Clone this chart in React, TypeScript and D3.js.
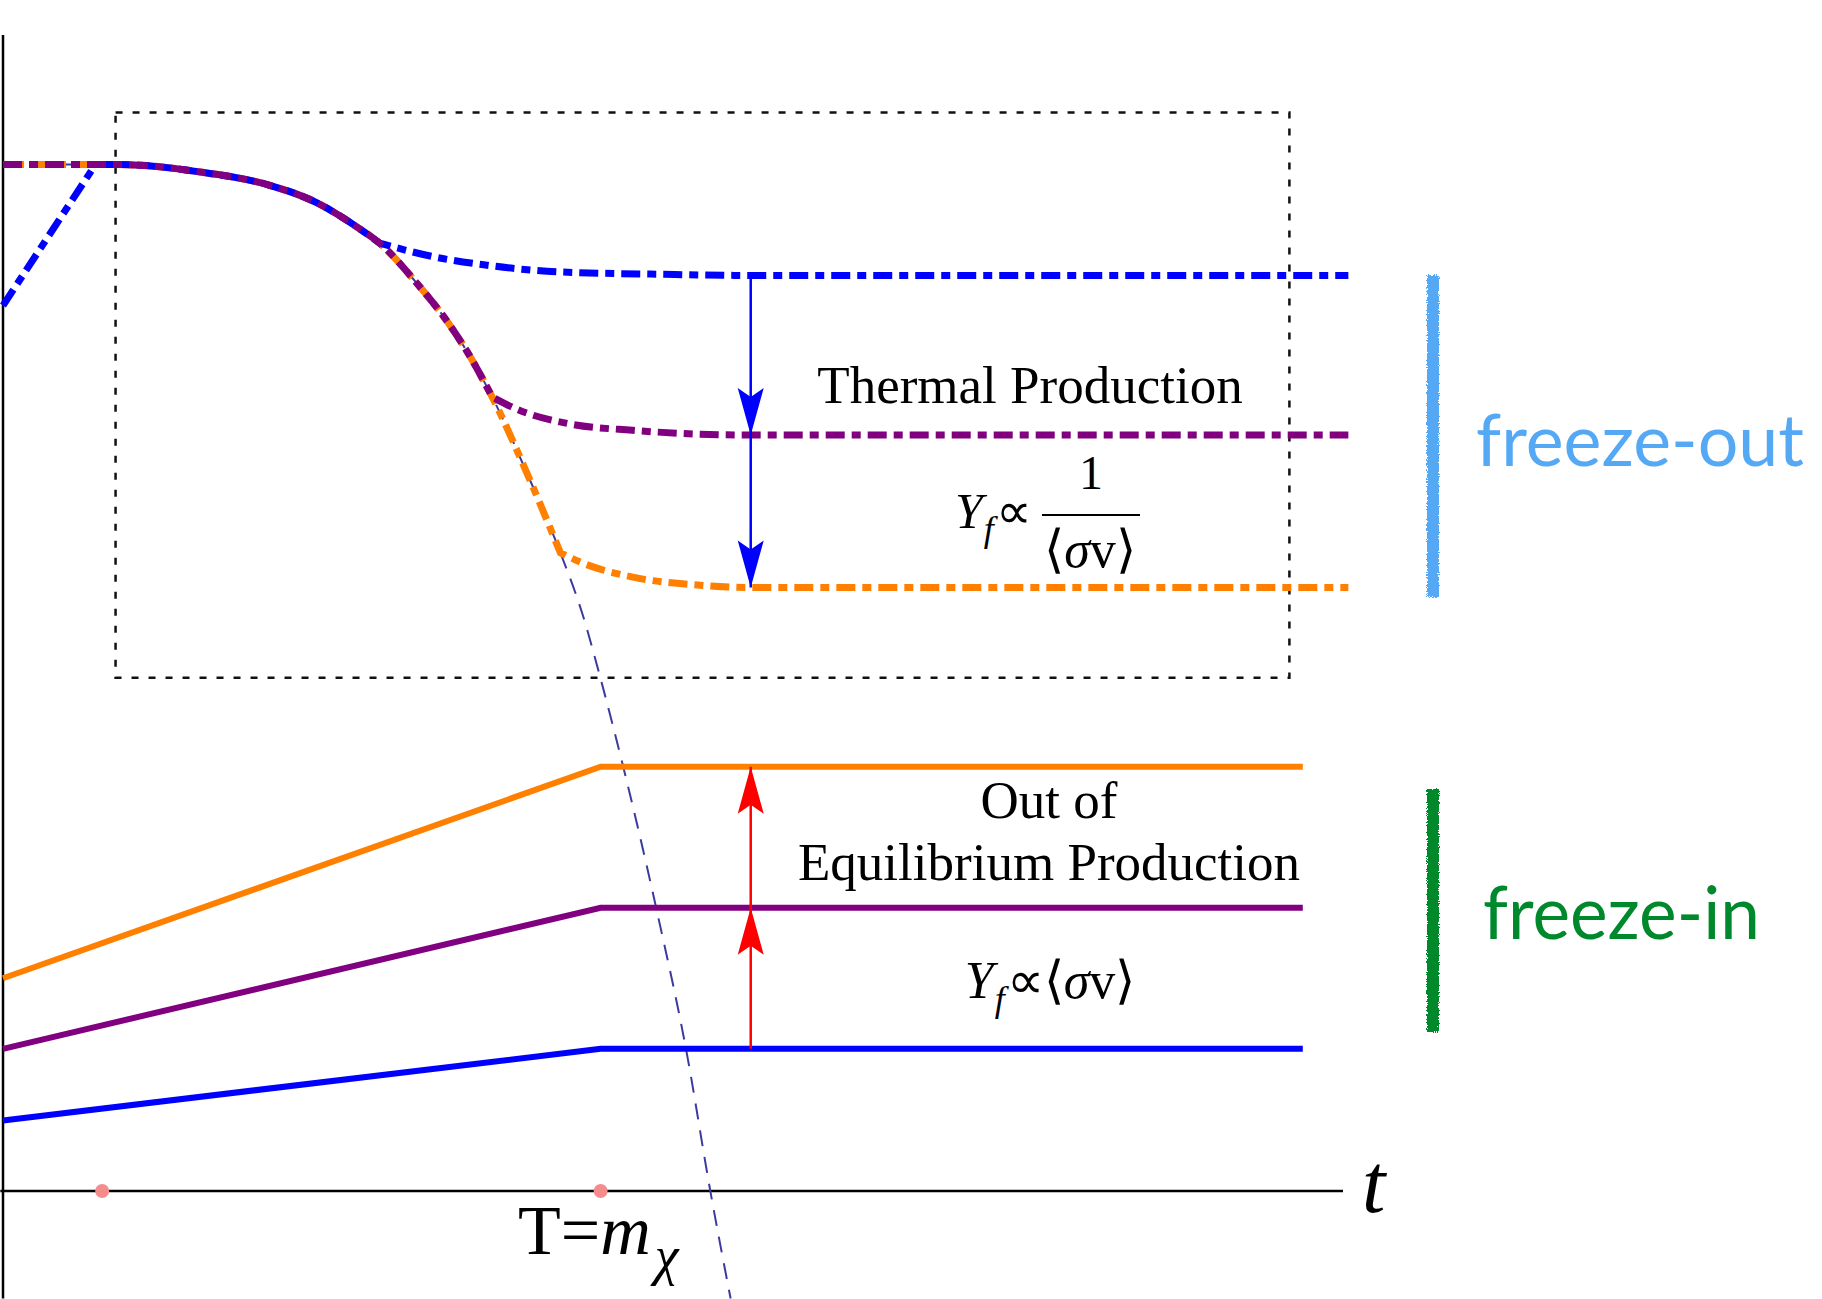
import React from 'react';
import * as d3 from 'd3';

// equilibrium abundance (log Y) vs time
const eqT = [0, 8.5, 15.0, 19.9, 23.4, 26.4, 28.1, 30.9, 33.1, 34.9, 36.5, 39.1, 41.6, 43.3, 44.6, 46.2, 48.8, 51.0, 52.8, 54.3];
const eqY = [88.8, 88.8, 88.1, 87.0, 85.5, 83.4, 82.0, 78.5, 75.3, 72.1, 68.7, 62.1, 55.2, 49.7, 44.3, 37.1, 24.2, 12.1, -0.1, -9.3];

// freeze-out curves: where they leave the equilibrium curve, then their tails
const blueRiseT = [0, 6.9];
const blueRiseY = [76.6, 88.8];
const blueTailT = [28.1, 32.2, 36.0, 41.6, 49.3, 55.7, 100.4];
const blueTailY = [82.0, 80.8, 80.1, 79.5, 79.3, 79.2, 79.2];
const purpleTailT = [36.5, 38.4, 42.1, 47.0, 55.7, 100.4];
const purpleTailY = [68.7, 67.6, 66.4, 65.8, 65.4, 65.4];
const orangeTailT = [41.6, 43.3, 47.0, 52.0, 55.7, 100.4];
const orangeTailY = [55.2, 54.3, 53.1, 52.4, 52.2, 52.2];

// freeze-in curves
const freezeInT = [0, 44.6, 97.0];
const freezeInOrange = [18.4, 36.7, 36.7];
const freezeInPurple = [12.3, 24.5, 24.5];
const freezeInBlue = [6.1, 12.3, 12.3];

const markerT = [7.4, 44.6];
const arrowT = 55.8;
const blueArrowY = [79.2, 65.4, 52.2];
const redArrowY = [12.3, 24.5, 36.7];
const boxT = [8.4, 96.0];
const boxY = [44.4, 93.3];

const x = d3.scaleLinear().domain([0, 100]).range([3, 1343]);
const y = d3.scaleLinear().domain([0, 100]).range([1191, 35]);

type P = [number, number];
const pts = (ts: number[], ys: number[]): P[] => ts.map((t, i) => [t, ys[i]]);
const smooth = d3.line<P>().x(d => x(d[0])).y(d => y(d[1])).curve(d3.curveMonotoneX);
const straight = d3.line<P>().x(d => x(d[0])).y(d => y(d[1]));
const join = (...parts: string[]) => parts.map((p, i) => (i === 0 ? p : p.replace(/^M/, 'L'))).join('');

const eqPts = pts(eqT, eqY);
const eqUntil = (t: number) => eqPts.filter(p => p[0] <= t);

const bluePath = join(
  straight(pts(blueRiseT, blueRiseY)) as string,
  smooth([[blueRiseT[1], blueRiseY[1]] as P, ...eqPts.filter(p => p[0] > blueRiseT[1] && p[0] <= blueTailT[0])]) as string,
  smooth(pts(blueTailT, blueTailY)) as string
);
const purplePath = join(smooth(eqUntil(purpleTailT[0])) as string, smooth(pts(purpleTailT, purpleTailY)) as string);
const orangePath = join(smooth(eqUntil(orangeTailT[0])) as string, smooth(pts(orangeTailT, orangeTailY)) as string);

const serif = '"Liberation Serif", "Times New Roman", serif';
const sans = 'Lato, "Open Sans", sans-serif';

const head = (px: number, py: number, dir: number) =>
  `M${px},${py} L${px - 13},${py - 47 * dir} L${px},${py - 38 * dir} L${px + 13},${py - 47 * dir} Z`;

const Arrow = ({ stops, color }: { stops: number[]; color: string }) => (
  <g>
    <line x1={x(arrowT)} x2={x(arrowT)} y1={y(stops[0])} y2={y(stops[2])} stroke={color} strokeWidth={2.5} />
    {stops.slice(1).map((s, i) => (
      <path key={i} d={head(x(arrowT), y(s), y(s) > y(stops[0]) ? 1 : -1)} fill={color} />
    ))}
  </g>
);

const dashDot = { strokeWidth: 7, fill: 'none', strokeDasharray: '19 7 9 7' };

export default function App() {
  return (
    <div style={{ position: 'absolute', left: 0, top: 0 }}>
      <svg width={1822} height={1299} style={{ display: 'block', background: '#fff' }}>
        <defs>
          <filter id="crayon" x="-100%" y="-5%" width="300%" height="110%">
            <feTurbulence type="fractalNoise" baseFrequency="0.9" numOctaves="2" seed="4" result="n" />
            <feDisplacementMap in="SourceGraphic" in2="n" scale="5" xChannelSelector="R" yChannelSelector="G" />
          </filter>
        </defs>

        {/* axes */}
        <line x1={x(0)} x2={x(0)} y1={y(-9.3)} y2={y(100)} stroke="#000" strokeWidth={2.5} />
        <line x1={x(-0.2)} x2={x(100)} y1={y(0)} y2={y(0)} stroke="#000" strokeWidth={2.5} />

        {/* dotted box around freeze-out */}
        <rect x={x(boxT[0])} y={y(boxY[1])} width={x(boxT[1]) - x(boxT[0])} height={y(boxY[0]) - y(boxY[1])}
          fill="none" stroke="#111" strokeWidth={2.5} strokeDasharray="7 10" />

        {/* equilibrium curve */}
        <path d={smooth(eqPts) as string} fill="none" stroke="#3b3b9f" strokeWidth={2} strokeDasharray="16 11" />

        {/* freeze-out curves */}
        <path d={orangePath} stroke="#ff8000" {...dashDot} strokeDashoffset={14} />
        <path d={bluePath} stroke="#0000ff" {...dashDot} />
        <path d={purplePath} stroke="#800080" {...dashDot} />

        {/* freeze-in curves */}
        {[[freezeInOrange, '#ff8000'], [freezeInPurple, '#800080'], [freezeInBlue, '#0000ff']].map(([vals, c], i) => (
          <path key={i} d={straight(pts(freezeInT, vals as number[])) as string} fill="none" stroke={c as string} strokeWidth={6} />
        ))}

        <Arrow stops={blueArrowY} color="#0000ff" />
        <Arrow stops={redArrowY} color="#ff0000" />

        {markerT.map((t, i) => (
          <circle key={i} cx={x(t)} cy={y(0)} r={7} fill="#f58c8c" />
        ))}

        {/* labels */}
        <g fontFamily={serif} fill="#000">
          <text x={1030} y={403} fontSize={53} textAnchor="middle">Thermal Production</text>

          <text x={955} y={528} fontSize={50}>
            <tspan fontStyle="italic">Y</tspan>
            <tspan fontStyle="italic" fontSize={36} dy={13} dx={1}>f</tspan>
            <tspan dy={-13} dx={2}>∝</tspan>
          </text>
          <line x1={1042} x2={1140} y1={515} y2={515} stroke="#000" strokeWidth={2} />
          <text x={1091} y={489} fontSize={48} textAnchor="middle">1</text>
          <text x={1090} y={567} fontSize={52} textAnchor="middle">
            <tspan>⟨</tspan>
            <tspan fontStyle="italic">σ</tspan>
            <tspan>v⟩</tspan>
          </text>

          <text x={1049} y={818} fontSize={53} textAnchor="middle">Out of</text>
          <text x={1049} y={880} fontSize={53} textAnchor="middle">Equilibrium Production</text>

          <text x={1050} y={998} fontSize={52} textAnchor="middle">
            <tspan fontStyle="italic">Y</tspan>
            <tspan fontStyle="italic" fontSize={36} dy={13} dx={1}>f</tspan>
            <tspan dy={-13} dx={2}>∝⟨</tspan>
            <tspan fontStyle="italic">σ</tspan>
            <tspan>v⟩</tspan>
          </text>

          <text x={518} y={1254} fontSize={70}>
            <tspan>T=</tspan>
            <tspan fontStyle="italic">m</tspan>
            <tspan fontStyle="italic" fontSize={54} dy={20} dx={4}>χ</tspan>
          </text>

          <text x={1362} y={1212} fontSize={84} fontStyle="italic">t</text>
        </g>

        {/* freeze-out / freeze-in brackets */}
        <rect x={1427} y={275} width={12} height={322} fill="#55a9f4" filter="url(#crayon)" />
        <rect x={1427} y={789} width={12} height={243} fill="#00892c" filter="url(#crayon)" />
        <text x={1476} y={466} fontFamily={sans} fontSize={72} fill="#55a9f4" textLength={328} lengthAdjust="spacingAndGlyphs">freeze-out</text>
        <text x={1483} y={939} fontFamily={sans} fontSize={74} fill="#00892c" textLength={277} lengthAdjust="spacingAndGlyphs">freeze-in</text>
      </svg>
    </div>
  );
}
